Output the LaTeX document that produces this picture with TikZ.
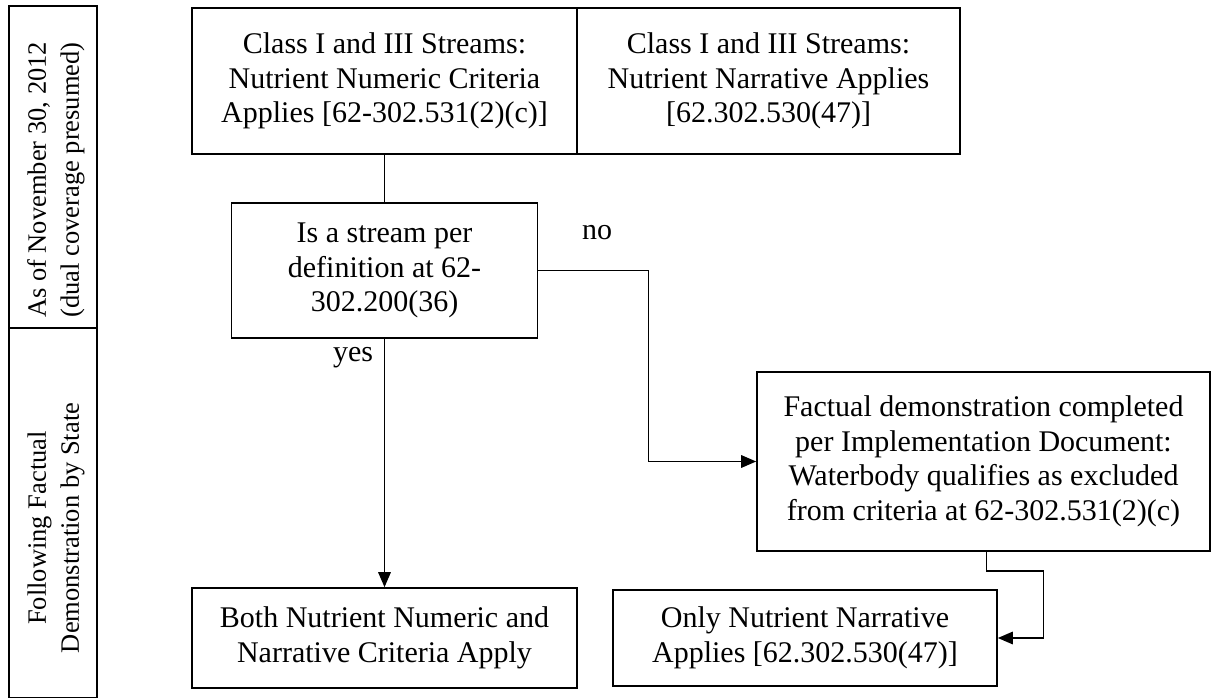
\documentclass[tikz,border=0pt]{standalone}
\usepackage{fontspec}
\setmainfont{Liberation Serif}
\usetikzlibrary{arrows.meta,positioning}

\begin{document}
\begin{tikzpicture}[x=0.4pt,y=-0.4pt,
  every node/.style={align=center,font=\fontsize{12}{13.8}\selectfont},%
  bx/.style={draw,line width=0.65pt,inner sep=0pt},%
  e/.style={-{Triangle[length=6pt,width=5pt]},line width=0.65pt},%
  ln/.style={line width=0.65pt},%
  cell/.style={bx,minimum width=35.2pt},%
  side/.style={rotate=90,font=\fontsize{10.6}{13.2}\selectfont},%
  ]
  \useasboundingbox (0,0) rectangle (1211,698);
  % left column
  \node (cellA) [cell,minimum height=128.8pt] at (53,167) {};
  \node (cellB) [cell,minimum height=148pt] at (53,513) {};
  \node (asof) [side] at (56,180) {As of November 30, 2012\\(dual coverage presumed)};
  \node (follow) [side] at (56,528) {Following Factual\\Demonstration by State};
  % top row
  \node (numeric) [bx,minimum width=154pt,minimum height=58.4pt] at (384.5,81)
  {Class I and III Streams:\\Nutrient Numeric Criteria\\Applies [62-302.531(2)(c)]};
  \node (narrative) [bx,minimum width=153.2pt,minimum height=58.4pt] at (768.5,81)
  {Class I and III Streams:\\Nutrient Narrative Applies\\{[62.302.530(47)]}};
  % decision
  \node (stream) [bx,minimum width=122.4pt,minimum height=54pt] at (384.5,270.5)
  {Is a stream per\\definition at 62-\\302.200(36)};
  \node (factual) [bx,minimum width=181.2pt,minimum height=71.6pt] at (983.5,461.5)
  {Factual demonstration completed\\per Implementation Document:\\Waterbody qualifies as excluded\\from criteria at 62-302.531(2)(c)};
  % results
  \node (both) [bx,minimum width=154pt,minimum height=40pt] at (384.5,638)
  {Both Nutrient Numeric and\\Narrative Criteria Apply};
  \node (only) [bx,minimum width=153.6pt,minimum height=38.4pt] at (805,638)
  {Only Nutrient Narrative\\Applies [62.302.530(47)]};
  \node (no) at (597,233) {no};
  \node (yes) at (353,358) {yes};

  \draw [ln] (numeric.south) -- (stream.north);
  \draw [e] (stream.east) -- ++(110,0) |- (factual.west);
  \draw [e] (stream.south) -- (both.north);
  \draw [e] ([xshift=1.2pt]factual.south) -- ++(0,19) -- ++(57,0) |- (only.east);
\end{tikzpicture}
\end{document}
